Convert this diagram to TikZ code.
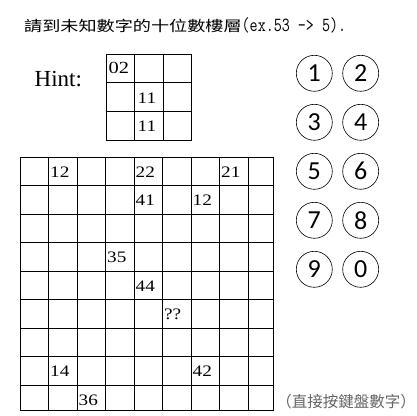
\documentclass[tikz,border=0pt]{standalone}
\usepackage{graphicx}
\usepackage{fontspec}
\setmainfont{Liberation Serif}
\newfontfamily\cjkfont{Noto Sans CJK TC}
\newfontfamily\keyfont{Carlito}
\newcommand{\widenum}[1]{\scalebox{1.2}[1]{#1}}
\usetikzlibrary{positioning}

\begin{document}
\begin{tikzpicture}[x=1pt,y=-1pt]
    \tikzstyle{key}=[circle, draw=black, line width=0.6pt,
            minimum size=36pt, inner sep=0pt,
            font=\keyfont\fontsize{26}{26}\selectfont]
    \tikzstyle{num}=[anchor=base west, inner sep=0pt,
            font=\fontsize{16}{16}\selectfont]
    \tikzstyle{gridline}=[line width=1pt]

        \useasboundingbox (0,0) rectangle (416,416);

        \node[anchor=base west, inner sep=0pt] (title) at (24,31.5)
        {{\cjkfont\fontsize{14.5}{14.5}\selectfont
        \scalebox{1.25}[1]{請到未知數字的十位數樓層}}%
        {\ttfamily\fontsize{20}{20}\selectfont
        \scalebox{0.78}[1]{(ex.53 -> 5).}}};

        \node[anchor=base west, inner sep=0pt,
        font=\fontsize{23}{23}\selectfont] (hint) at (34.5,86) {Hint:};

        % hint grid 3x3
        \foreach \i in {0,1,2,3}
        {
            \draw[gridline] (106+28.6*\i,54.3) -- (106+28.6*\i,140.1);
            \draw[gridline] (106,54.3+28.6*\i) -- (191.8,54.3+28.6*\i);
        }

        \node[num, font=\fontsize{17}{17}\selectfont]
        (h00) at (108.5,73.3) {\widenum{02}};
        \node[num] (h11) at (137.5,103.3) {\widenum{11}};
        \node[num] (h21) at (137.5,131.7) {\widenum{11}};

        % big grid, last row and column cut
        \foreach \i in {0,...,8}
        {
            \draw[gridline] (20+28.5*\i,157) -- (20+28.5*\i,410.7);
            \draw[gridline] (20,157+28.5*\i) -- (273.3,157+28.5*\i);
        }
        \draw[gridline] (273.3,157) -- (273.3,410.7);
        \draw[gridline] (20,410.7) -- (273.3,410.7);

        \foreach \r/\c/\v in {0/1/12, 0/4/22, 0/7/21, 1/4/41, 1/6/12,
                3/3/35, 4/4/44, 5/5/??, 7/1/14, 7/6/42, 8/2/36}
        {
            \node[num] (n\r\c) at (21.5+28.5*\c,177+28.5*\r) {\widenum{\v}};
        }

        % keypad
        \foreach \k/\c/\r in {1/0/0, 2/1/0, 3/0/1, 4/1/1, 5/0/2,
                6/1/2, 7/0/3, 8/1/3, 9/0/4, 0/1/4}
        {
            \node[key] (key\k) at (314.3+46.4*\c,73.3+49*\r) {\k};
        }

        \node[anchor=base east, inner sep=0pt, text=black!60,
        font=\cjkfont\fontsize{15.5}{15.5}\selectfont] (typehint) at (416,407)
        {（直接按鍵盤數字）};

    \end{tikzpicture}
\end{document}
